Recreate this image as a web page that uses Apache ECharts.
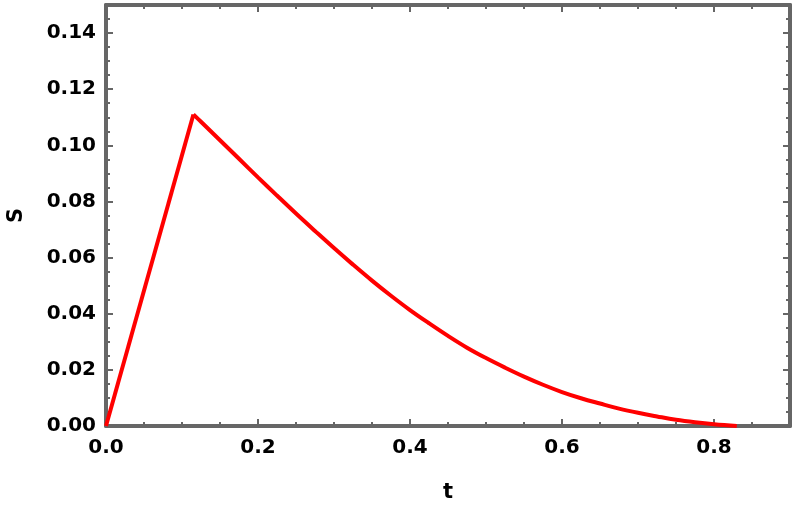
<!DOCTYPE html>
<html>
<head>
<meta charset="utf-8">
<script src="https://cdn.jsdelivr.net/npm/echarts@6/dist/echarts.min.js"></script>
<style>
  html, body { margin: 0; padding: 0; background: #fff; }
  #chart { width: 793px; height: 511px; }
</style>
</head>
<body>
<div id="chart"></div>
<script>
// data; index 1 is the peak where the rise ends
const tValues = [0, 0.115, 0.125, 0.15, 0.175, 0.2, 0.225, 0.25, 0.275, 0.3, 0.325, 0.35, 0.375, 0.4,
  0.425, 0.45, 0.475, 0.5, 0.525, 0.55, 0.575, 0.6, 0.625, 0.65, 0.675, 0.7, 0.725, 0.75, 0.775, 0.8, 0.83]
const sValues = [0, 0.111, 0.1084, 0.1018, 0.0952, 0.0886, 0.0821, 0.0757, 0.0695, 0.0634, 0.0575, 0.0518, 0.0464, 0.0413,
  0.0366, 0.0321, 0.0279, 0.0242, 0.0208, 0.0176, 0.0147, 0.0121, 0.0099, 0.008, 0.0062, 0.0047, 0.0034, 0.0022, 0.0013, 0.0006, 0]
const xTicks = [0, 0.2, 0.4, 0.6, 0.8]
const yTicks = [0, 0.02, 0.04, 0.06, 0.08, 0.10, 0.12, 0.14]

const frame = '#666666'
const labelFont = { color: '#000', fontFamily: 'DejaVu Sans', fontWeight: 'bold', fontSize: 20 }
const nameFont = { color: '#000', fontFamily: 'DejaVu Sans', fontWeight: 'bold', fontSize: 21 }

const points = tValues.map((t, i) => [t, sValues[i]])
const rise = points.slice(0, 2)
const decay = points.slice(1)

// one axis = either major ticks (with labels) or minor ticks
function xAx(pos, major, showLine) {
  return {
    type: 'value', position: pos, min: 0, max: 0.9,
    interval: major ? 0.2 : 0.05,
    axisLine: { show: showLine, onZero: false, lineStyle: { color: frame, width: 4 } },
    axisTick: { show: true, inside: true, length: major ? 7 : 4, lineStyle: { color: frame, width: 2 } },
    axisLabel: {
      show: major && pos === 'bottom', margin: 12, showMaxLabel: false, ...labelFont,
      formatter: v => (xTicks.indexOf(Math.round(v * 10) / 10) >= 0 ? v.toFixed(1) : '')
    },
    splitLine: { show: false },
    name: major && pos === 'bottom' ? 't' : '',
    nameLocation: 'middle', nameGap: 56,
    nameTextStyle: nameFont
  }
}
function yAx(pos, major, showLine) {
  return {
    type: 'value', position: pos, min: 0, max: 0.15,
    interval: major ? 0.02 : 0.005,
    axisLine: { show: showLine, onZero: false, lineStyle: { color: frame, width: 4 } },
    axisTick: { show: true, inside: true, length: major ? 7 : 4, lineStyle: { color: frame, width: 2 } },
    axisLabel: {
      show: major && pos === 'left', margin: 10, showMaxLabel: false, ...labelFont,
      formatter: v => v.toFixed(2)
    },
    splitLine: { show: false },
    name: major && pos === 'left' ? 'S' : '',
    nameLocation: 'middle', nameGap: 79,
    nameTextStyle: nameFont
  }
}

const chart = echarts.init(document.getElementById('chart'))
chart.setOption({
  animation: false,
  grid: { left: 106, right: 3, top: 5, bottom: 85, outerBoundsMode: 'none' },
  xAxis: [xAx('bottom', true, true), xAx('bottom', false, false), xAx('top', true, true), xAx('top', false, false)],
  yAxis: [yAx('left', true, true), yAx('left', false, false), yAx('right', true, true), yAx('right', false, false)],
  series: [
    {
      type: 'line', xAxisIndex: 0, yAxisIndex: 0,
      data: rise, showSymbol: false,
      lineStyle: { color: '#ff0000', width: 4, join: 'miter' }
    },
    {
      type: 'line', xAxisIndex: 0, yAxisIndex: 0,
      data: decay, showSymbol: false, smooth: 0.4,
      lineStyle: { color: '#ff0000', width: 4 }
    }
  ]
})
</script>
</body>
</html>
